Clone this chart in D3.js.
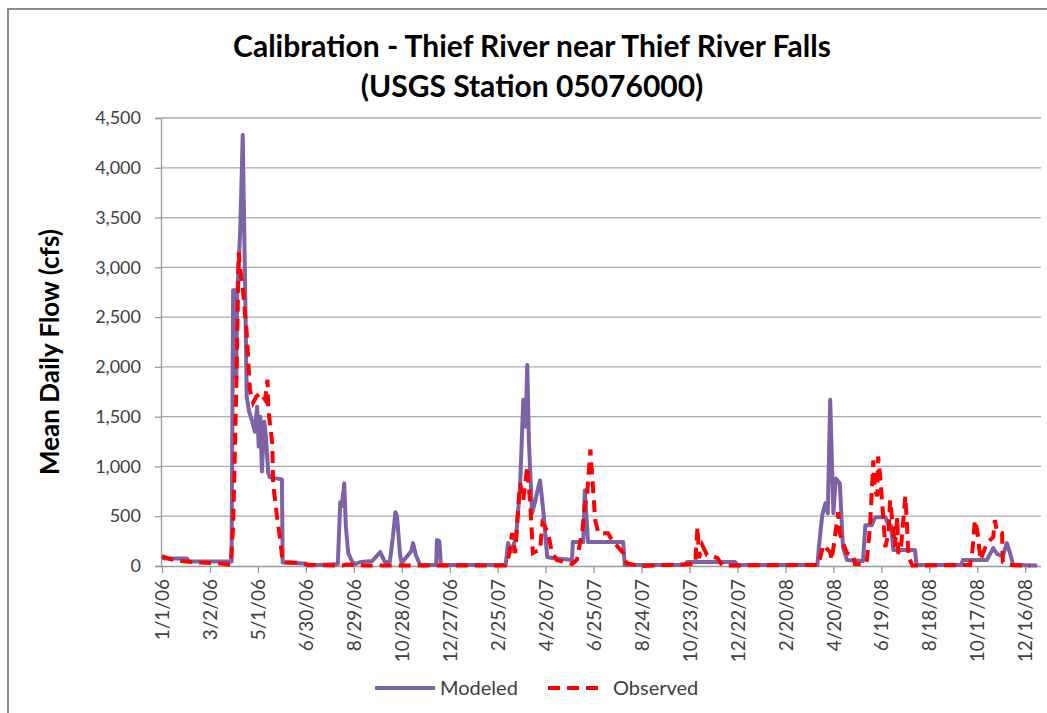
<!DOCTYPE html>
<html>
<head>
<meta charset="utf-8">
<script src="https://cdn.jsdelivr.net/npm/d3@7"></script>
<style>
  html, body { margin: 0; padding: 0; background: #fff; }
  svg { display: block; font-family: Lato, "Open Sans", sans-serif; }
</style>
</head>
<body>
<svg id="chart" width="1047" height="713"></svg>
<script>
// Thief River near Thief River Falls — mean daily flow, modeled vs observed (cfs)

const titleLines = ["Calibration - Thief River near Thief River Falls", "(USGS Station 05076000)"];
const yTitle = "Mean Daily Flow (cfs)";
const yTicks = [0, 500, 1000, 1500, 2000, 2500, 3000, 3500, 4000, 4500];
const xTickLabels = ["1/1/06", "3/2/06", "5/1/06", "6/30/06", "8/29/06", "10/28/06", "12/27/06",
  "2/25/07", "4/26/07", "6/25/07", "8/24/07", "10/23/07", "12/22/07", "2/20/08", "4/20/08",
  "6/19/08", "8/18/08", "10/17/08", "12/16/08"];

// Modeled flow, [date, cfs]
const modeled = [
  ["1/1/06", 80], ["1/5/06", 75], ["2/1/06", 75], ["2/4/06", 45], ["3/29/06", 45],
  ["3/31/06", 2770], ["4/3/06", 2770], ["4/4/06", 1900], ["4/5/06", 2700], ["4/9/06", 3400],
  ["4/12/06", 4330], ["4/15/06", 2800], ["4/17/06", 1700], ["4/20/06", 1550], ["4/24/06", 1450],
  ["4/27/06", 1350], ["4/30/06", 1600], ["5/2/06", 1200], ["5/4/06", 1500], ["5/6/06", 950],
  ["5/9/06", 1450], ["5/11/06", 1300], ["5/14/06", 930], ["5/16/06", 890], ["5/31/06", 870],
  ["6/1/06", 35], ["6/29/06", 25], ["7/3/06", 5], ["8/9/06", 20], ["8/12/06", 640],
  ["8/14/06", 600], ["8/17/06", 830], ["8/19/06", 400], ["8/22/06", 130], ["8/27/06", 40],
  ["8/31/06", 20], ["9/6/06", 40], ["9/21/06", 50], ["10/1/06", 140], ["10/7/06", 40],
  ["10/13/06", 40], ["10/17/06", 300], ["10/20/06", 540], ["10/22/06", 500], ["10/26/06", 100],
  ["10/28/06", 30], ["11/9/06", 150], ["11/11/06", 230], ["11/15/06", 100], ["11/20/06", 10],
  ["12/10/06", 10], ["12/11/06", 260], ["12/14/06", 250], ["12/16/06", 10], ["3/7/07", 10],
  ["3/10/07", 230], ["3/15/07", 150], ["3/20/07", 300], ["3/25/07", 800], ["3/29/07", 1670],
  ["4/1/07", 1400], ["4/3/07", 2020], ["4/5/07", 1260], ["4/9/07", 530], ["4/13/07", 650],
  ["4/15/07", 730], ["4/19/07", 860], ["4/23/07", 560], ["4/28/07", 90], ["5/4/07", 80],
  ["5/29/07", 60], ["5/30/07", 240], ["6/12/07", 240], ["6/14/07", 760], ["6/18/07", 240],
  ["8/1/07", 240], ["8/3/07", 10], ["10/17/07", 10], ["10/20/07", 40], ["12/19/07", 40],
  ["12/22/07", 10], ["3/31/08", 10], ["4/2/08", 200], ["4/6/08", 510], ["4/10/08", 630],
  ["4/13/08", 530], ["4/16/08", 1670], ["4/20/08", 530], ["4/23/08", 880], ["4/28/08", 830],
  ["5/2/08", 190], ["5/7/08", 60], ["5/27/08", 50], ["5/30/08", 410], ["6/7/08", 410],
  ["6/11/08", 490], ["6/24/08", 490], ["6/28/08", 410], ["7/1/08", 410], ["7/4/08", 160],
  ["7/31/08", 160], ["8/2/08", 10], ["9/27/08", 10], ["9/29/08", 60], ["10/29/08", 60],
  ["11/6/08", 180], ["11/11/08", 120], ["11/18/08", 100], ["11/23/08", 230], ["11/27/08", 130],
  ["12/1/08", 10], ["12/31/08", 5]
];

// Observed flow, [date, cfs]
const observed = [
  ["1/1/06", 100], ["1/11/06", 70], ["1/23/06", 50], ["2/18/06", 35], ["3/8/06", 30],
  ["3/20/06", 20], ["3/28/06", 10], ["3/31/06", 400], ["4/4/06", 1800], ["4/7/06", 3150],
  ["4/10/06", 2900], ["4/12/06", 2800], ["4/17/06", 2340], ["4/21/06", 1770], ["4/25/06", 1640],
  ["4/29/06", 1700], ["5/4/06", 1740], ["5/10/06", 1670], ["5/13/06", 1870], ["5/14/06", 1570],
  ["5/19/06", 1230], ["5/20/06", 830], ["5/25/06", 490], ["5/29/06", 260], ["6/1/06", 40],
  ["6/22/06", 30], ["7/5/06", 10], ["8/15/06", 5], ["8/20/06", 15], ["9/10/06", 5],
  ["3/6/07", 5], ["3/11/07", 100], ["3/15/07", 330], ["3/19/07", 130], ["3/22/07", 500],
  ["3/25/07", 830], ["3/29/07", 660], ["4/3/07", 1000], ["4/7/07", 590], ["4/10/07", 130],
  ["4/15/07", 150], ["4/19/07", 160], ["4/22/07", 430], ["4/25/07", 400], ["4/29/07", 330],
  ["5/4/07", 130], ["5/10/07", 60], ["5/29/07", 20], ["6/4/07", 60], ["6/11/07", 360],
  ["6/14/07", 600], ["6/17/07", 730], ["6/21/07", 1170], ["6/23/07", 930], ["6/27/07", 460],
  ["7/1/07", 330], ["7/13/07", 330], ["7/18/07", 260], ["8/1/07", 130], ["8/5/07", 30],
  ["8/21/07", 0], ["10/30/07", 20], ["11/2/07", 390], ["11/4/07", 80], ["11/8/07", 210],
  ["11/14/07", 110], ["11/27/07", 80], ["12/3/07", 5], ["4/1/08", 10], ["4/6/08", 160],
  ["4/7/08", 210], ["4/16/08", 140], ["4/18/08", 60], ["4/26/08", 540], ["4/28/08", 330],
  ["5/2/08", 230], ["5/7/08", 130], ["5/15/08", 110], ["5/17/08", 20], ["5/30/08", 20],
  ["6/1/08", 60], ["6/5/08", 420], ["6/9/08", 1060], ["6/11/08", 760], ["6/14/08", 700],
  ["6/15/08", 1100], ["6/18/08", 860], ["6/21/08", 530], ["6/24/08", 190], ["6/28/08", 330],
  ["6/30/08", 660], ["7/3/08", 430], ["7/6/08", 190], ["7/9/08", 490], ["7/10/08", 140],
  ["7/13/08", 130], ["7/19/08", 700], ["7/21/08", 430], ["7/23/08", 90], ["7/28/08", 5],
  ["10/8/08", 10], ["10/11/08", 160], ["10/14/08", 460], ["10/17/08", 360], ["10/21/08", 60],
  ["10/29/08", 230], ["11/6/08", 290], ["11/8/08", 460], ["11/11/08", 340], ["11/17/08", 330],
  ["11/18/08", 40], ["11/27/08", 10], ["12/22/08", 0]
];

const legendItems = [
  { label: "Modeled", color: "#7d62a6", dash: null },
  { label: "Observed", color: "#ff0000", dash: "12,7" }
];

const parse = d3.timeParse("%m/%d/%y");
const svg = d3.select("#chart");

// outer chart frame
svg.append("path")
  .attr("d", "M8,730 L8,9 L1060,9")
  .attr("fill", "none").attr("stroke", "#8c8c8c").attr("stroke-width", 2);

const plot = { left: 161, right: 1041, top: 118, bottom: 566 };

const x = d3.scaleTime()
  .domain([parse("1/1/06"), parse("1/1/09")])
  .range([162, 1038]);
const y = d3.scaleLinear().domain([0, 4500]).range([plot.bottom, plot.top]);

// horizontal gridlines
svg.append("g").selectAll("line")
  .data(yTicks.filter(d => d > 0))
  .join("line")
  .attr("x1", plot.left).attr("x2", plot.right)
  .attr("y1", d => y(d)).attr("y2", d => y(d))
  .attr("stroke", "#ababab").attr("stroke-width", 1.3);

// y axis
const yAxis = svg.append("g")
  .attr("transform", `translate(${plot.left},0)`)
  .call(d3.axisLeft(y).tickValues(yTicks).tickFormat(d3.format(",")).tickSize(6).tickPadding(14));
yAxis.select(".domain").attr("stroke", "#9a9a9a").attr("stroke-width", 1.3);
yAxis.selectAll(".tick line").attr("stroke", "#9a9a9a").attr("stroke-width", 1.3);
yAxis.selectAll(".tick text").attr("font-size", 18).attr("fill", "#404040")
  .attr("font-family", "Lato, sans-serif");

// x axis
const xAxis = svg.append("g")
  .attr("transform", `translate(0,${plot.bottom})`)
  .call(d3.axisBottom(x).tickValues(xTickLabels.map(parse)).tickSize(7)
    .tickFormat(d3.timeFormat("%-m/%-d/%y")).tickSizeOuter(0));
xAxis.select(".domain").attr("d", `M${plot.left},0.5H${plot.right}`)
  .attr("stroke", "#9a9a9a").attr("stroke-width", 1.3);
xAxis.selectAll(".tick line").attr("stroke", "#9a9a9a").attr("stroke-width", 1.3);
xAxis.selectAll(".tick text")
  .attr("font-size", 19).attr("fill", "#404040").attr("font-family", "Lato, sans-serif")
  .attr("text-anchor", "end").attr("dy", "0.35em")
  .attr("transform", "translate(0,13) rotate(-90)")
  .attr("x", 0).attr("y", 0);

// series
const line = d3.line().x(d => x(parse(d[0]))).y(d => y(d[1]));

svg.append("path").datum(modeled)
  .attr("d", line).attr("fill", "none")
  .attr("stroke", legendItems[0].color).attr("stroke-width", 4)
  .attr("stroke-linejoin", "round");

svg.append("path").datum(observed)
  .attr("d", line).attr("fill", "none")
  .attr("stroke", legendItems[1].color).attr("stroke-width", 4)
  .attr("stroke-dasharray", legendItems[1].dash);

// titles
svg.append("g").selectAll("text").data(titleLines).join("text")
  .attr("x", 532).attr("y", (d, i) => 57 + i * 40)
  .attr("text-anchor", "middle").attr("font-size", 30).attr("font-weight", 700)
  .attr("fill", "#000").text(d => d);

svg.append("text")
  .attr("transform", "translate(59,352) rotate(-90)")
  .attr("text-anchor", "middle").attr("font-size", 26).attr("font-weight", 700)
  .attr("fill", "#000").text(yTitle);

// legend
const legendX = [375, 548];
const lg = svg.append("g").selectAll("g").data(legendItems).join("g")
  .attr("transform", (d, i) => `translate(${legendX[i]},688)`);
lg.append("line").attr("x1", 0).attr("x2", d => d.dash ? 55 : 60).attr("y1", 0).attr("y2", 0)
  .attr("stroke", d => d.color).attr("stroke-width", 4)
  .attr("stroke-dasharray", d => d.dash);
lg.append("text").attr("x", 65).attr("y", 0).attr("dy", "0.35em")
  .attr("font-size", 20).attr("fill", "#404040").text(d => d.label);
</script>
</body>
</html>
